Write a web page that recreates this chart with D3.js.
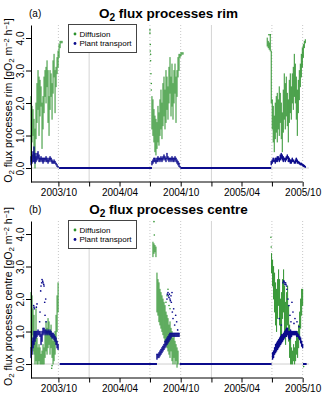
<!DOCTYPE html>
<html>
<head>
<meta charset="utf-8">
<script src="https://cdn.jsdelivr.net/npm/d3@7"></script>
<style>
body { margin: 0; background: #fff; }
text { font-family: "Liberation Sans", Arial, sans-serif; }
</style>
</head>
<body>
<div id="chart"></div>
<script>
// time axis
const xStart = "2003-07-11", xEnd = "2005-10-20";
const tickDates = ["2003-10-01","2004-01-01","2004-04-01","2004-07-01","2004-10-01","2005-01-01","2005-04-01","2005-07-01","2005-10-01"];
const labelDates = ["2003-10-01","2004-04-01","2004-10-01","2005-04-01","2005-10-01"];
const yearLines = ["2004-01-01","2005-01-01"];
const seasonLines = ["2003-10-01","2004-07-01","2004-10-01","2005-07-01","2005-10-01"];
const yTicks = [0, 1, 2, 3, 4];
const stepDays = 3; // spacing of the [low, high] samples below

// ---- rim: diffusion, [low, high] every 3 days
const rimDiffStarts = ["2003-07-11", "2004-07-07", "2005-06-17"];
const rimDiff1 = [[0.2,2.2],[0.8,1.9],[1.0,1.8],[0.3,1.5],[0.0,1.2],[0.9,2.0],[1.4,2.6],[1.8,3.0],[1.0,2.8],[1.6,2.7],[1.9,2.5],[0.6,2.0],[1.2,2.2],[1.7,2.8],[2.2,3.0],[2.0,3.1],[2.5,3.3],[1.4,3.0],[1.0,2.2],[1.8,3.0],[2.2,2.9],[1.5,2.6],[2.3,3.3],[2.8,3.5],[1.7,3.0],[2.5,3.1],[2.9,3.4],[3.1,3.6],[3.4,3.8],[3.7,3.9],[3.85,3.9],[3.85,3.9]];
const rimDiff2 = [[1.2,2.2],[1.0,2.1],[0.8,1.8],[0.5,1.6],[0.4,1.5],[0.6,1.4],[0.8,1.9],[0.7,1.7],[1.0,2.1],[1.2,2.4],[0.9,2.0],[1.3,2.6],[1.6,2.8],[1.2,2.4],[1.4,3.0],[1.8,2.8],[1.5,2.5],[2.0,3.1],[2.3,3.4],[1.6,2.8],[1.9,3.2],[1.5,2.6],[2.0,3.0],[2.3,3.2],[1.4,2.8],[2.2,3.0],[2.8,3.4],[3.0,3.5],[3.4,3.5],[3.45,3.55],[3.5,3.55],[3.5,3.55]];
const rimDiff3 = [[3.75,4.0],[3.7,3.9],[3.65,3.85],[3.6,4.1],[2.0,3.6],[1.2,2.1],[0.8,1.9],[0.5,1.6],[0.9,2.0],[1.1,2.2],[0.8,2.3],[1.2,2.1],[1.0,2.5],[1.4,2.3],[0.9,2.0],[0.5,1.7],[1.1,2.4],[1.5,2.9],[1.2,2.6],[1.6,2.8],[1.3,2.3],[0.8,2.1],[1.4,2.7],[1.7,2.9],[1.5,2.5],[2.0,2.9],[1.8,3.1],[2.2,3.5],[2.0,3.2],[1.5,2.8],[1.0,2.4],[1.7,2.7],[2.1,3.0],[2.5,3.2],[2.8,3.5],[3.1,3.7],[3.4,3.8],[3.7,3.9],[3.85,3.95]];
const rimDiffScatter = [["2004-07-01",4.25],["2004-07-01",4.15],["2004-07-02",3.8],["2004-07-02",3.6],["2004-07-03",3.5],["2004-07-03",3.3],["2004-07-04",2.9],["2004-07-05",2.6],["2004-07-05",2.4],["2005-06-22",4.1],["2005-06-26",4.1]];

// ---- rim: plant transport
const rimTransStarts = ["2003-07-11", "2004-07-07", "2005-06-29"];
const rimTrans1 = [[0.1,0.35],[0.15,0.4],[0.2,0.5],[0.2,0.65],[0.15,0.45],[0.2,0.35],[0.25,0.45],[0.3,0.5],[0.2,0.4],[0.2,0.3],[0.25,0.35],[0.2,0.3],[0.15,0.3],[0.2,0.3],[0.25,0.3],[0.2,0.35],[0.2,0.3],[0.15,0.25],[0.2,0.3],[0.25,0.35],[0.2,0.3],[0.15,0.25],[0.15,0.2],[0.15,0.25],[0.15,0.2],[0.1,0.15],[0.05,0.1],[0.02,0.05]];
const rimTrans2 = [[0.1,0.2],[0.15,0.25],[0.2,0.3],[0.2,0.3],[0.15,0.25],[0.2,0.3],[0.2,0.35],[0.25,0.3],[0.2,0.3],[0.25,0.35],[0.2,0.3],[0.25,0.35],[0.3,0.4],[0.25,0.35],[0.2,0.3],[0.3,0.45],[0.25,0.35],[0.2,0.3],[0.25,0.3],[0.2,0.3],[0.25,0.35],[0.2,0.3],[0.2,0.3],[0.25,0.35],[0.2,0.3],[0.15,0.25],[0.1,0.2],[0.05,0.15],[0.02,0.05]];
const rimTrans3 = [[0.1,0.2],[0.15,0.25],[0.2,0.3],[0.2,0.25],[0.15,0.3],[0.2,0.3],[0.2,0.35],[0.25,0.35],[0.2,0.3],[0.25,0.4],[0.3,0.45],[0.25,0.4],[0.2,0.35],[0.25,0.3],[0.2,0.3],[0.25,0.35],[0.3,0.4],[0.2,0.35],[0.2,0.3],[0.15,0.25],[0.15,0.25],[0.2,0.3],[0.2,0.25],[0.15,0.2],[0.15,0.25],[0.2,0.3],[0.15,0.25],[0.15,0.2],[0.12,0.18],[0.1,0.15],[0.1,0.15],[0.08,0.12],[0.05,0.1],[0.04,0.08],[0.02,0.05]];
const rimTransScatter = [];
const rimZero = [["2003-10-03","2004-07-07"],["2004-09-30","2005-06-29"]];

// ---- centre: diffusion
const centreDiffStarts = ["2003-07-11", "2004-07-10", "2005-06-30"];
const centreDiff1 = [[0.5,2.2],[0.9,2.1],[0.4,1.7],[0.3,1.5],[0.0,1.0],[0.1,1.7],[0.0,0.8],[0.0,0.5],[0.1,0.6],[0.0,0.5],[0.0,0.3],[0.0,0.4],[0.0,0.6],[0.0,0.5],[0.2,0.9],[0.4,1.3],[0.3,1.1],[0.5,1.4],[0.6,1.3],[0.3,1.0],[0.5,1.2],[0.2,0.9],[0.0,0.7],[0.1,0.9],[0.3,1.0],[0.6,1.5],[1.0,2.1],[1.6,2.5]];
const centreDiff2 = [[3.3,3.75],[3.4,3.7],[3.45,3.65],[3.3,3.6],[1.6,2.8],[1.5,2.6],[1.3,2.5],[1.2,2.3],[1.1,2.2],[1.0,2.1],[0.9,2.0],[0.8,1.9],[0.7,1.8],[0.6,1.6],[0.5,1.5],[0.4,1.4],[0.3,1.2],[0.2,1.3],[0.4,1.1],[0.1,1.0],[0.0,0.8],[0.2,0.9],[0.0,0.7],[0.1,0.6],[-0.1,0.5],[0.0,0.4]];
const centreDiff3 = [[2.8,3.4],[2.4,3.2],[2.0,3.0],[1.6,2.8],[1.2,2.5],[1.0,2.3],[1.4,2.6],[1.8,2.9],[1.2,2.6],[0.6,2.0],[0.9,2.2],[1.4,2.6],[1.6,2.9],[1.0,2.4],[0.6,1.9],[0.9,2.2],[1.2,2.4],[0.7,1.8],[0.2,1.2],[0.0,0.8],[0.0,0.5],[0.0,0.4],[0.1,0.6],[0.0,0.5],[0.1,0.7],[0.3,0.9],[0.2,1.0],[0.5,1.2],[0.8,1.6],[1.1,2.0],[1.5,2.3],[1.8,2.3]];
const centreDiffScatter = [["2003-09-11",-0.13],["2003-09-12",-0.05],["2004-07-13",4.38],["2004-07-14",3.97],["2004-08-18",1.9],["2004-08-21",2.1],["2004-08-24",2.3],["2004-08-27",1.8],["2004-08-30",1.7],["2005-06-28",3.9],["2005-06-29",3.6],["2005-10-04",-0.08]];

// ---- centre: plant transport
const centreTransStarts = ["2003-07-11", "2004-07-22", "2005-07-03"];
const centreTrans1 = [[0.2,0.5],[0.3,0.7],[0.5,0.8],[0.6,1.0],[0.7,1.0],[0.8,1.0],[0.85,1.0],[0.9,1.05],[0.9,1.0],[0.85,1.0],[0.6,0.9],[0.7,1.0],[0.9,1.1],[0.95,1.1],[0.9,1.05],[0.95,1.05],[0.9,1.0],[0.95,1.05],[0.9,1.0],[0.9,1.05],[0.85,1.0],[0.8,0.95],[0.8,0.95],[0.75,0.9],[0.7,0.85],[0.6,0.8],[0.5,0.7],[0.45,0.6]];
const centreTrans2 = [[0.15,0.3],[0.2,0.3],[0.2,0.35],[0.25,0.4],[0.3,0.45],[0.35,0.5],[0.4,0.55],[0.45,0.6],[0.5,0.7],[0.55,0.75],[0.6,0.8],[0.65,0.85],[0.7,0.9],[0.75,0.95],[0.8,0.95],[0.85,0.95],[0.85,0.95],[0.85,0.95],[0.85,0.95],[0.85,0.95],[0.85,0.95],[0.85,0.95],[0.85,0.95]];
const centreTrans3 = [[0.15,0.35],[0.2,0.4],[0.3,0.5],[0.35,0.6],[0.4,0.65],[0.45,0.7],[0.5,0.75],[0.55,0.8],[0.6,0.85],[0.65,0.9],[0.7,0.9],[0.75,0.95],[0.8,1.0],[0.85,1.05],[0.85,1.1],[0.9,1.1],[0.8,1.0],[0.75,1.0],[0.8,1.05],[0.85,1.0],[0.9,1.0],[0.9,1.0],[0.9,1.0],[0.9,1.0],[0.85,1.0],[0.85,0.95],[0.8,0.9],[0.75,0.85],[0.65,0.8],[0.55,0.7],[0.5,0.6]];
const centreTransScatter = [["2003-07-19",1.8],["2003-07-20",1.75],["2003-07-21",1.7],["2003-07-27",1.75],["2003-07-29",1.85],["2003-08-06",1.3],["2003-08-07",1.6],
  ["2003-08-09",2.25],["2003-08-10",2.4],["2003-08-12",2.5],["2003-08-13",2.6],["2003-08-15",2.55],["2003-08-16",2.5],["2003-08-18",2.45],["2003-08-19",2.4],["2003-08-21",1.9],["2003-08-22",1.5],["2003-08-24",2.0],["2003-08-25",1.3],
  ["2004-08-21",2.0],["2004-08-22",2.15],["2004-08-24",2.2],["2004-08-25",2.1],["2004-08-27",2.05],["2004-08-28",2.15],["2004-08-30",2.0],["2004-08-31",1.95],["2004-09-02",2.1],["2004-09-03",1.9],["2004-09-05",2.2],["2004-09-06",1.6],["2004-09-08",1.4],["2004-09-10",1.7],["2004-09-13",1.2],["2004-09-16",1.5],["2004-09-19",1.3],["2004-09-22",1.05],
  ["2005-08-03",2.5],["2005-08-05",2.55],["2005-08-06",2.55],["2005-08-08",2.5],["2005-08-09",2.45],["2005-08-11",2.5],["2005-08-12",2.45],["2005-08-14",2.4],["2005-08-15",2.3],["2005-08-18",2.0],["2005-08-21",1.8],["2005-08-24",1.5],["2005-08-27",1.3],["2005-08-30",1.9],["2005-09-02",1.6],["2005-09-05",1.25],["2005-09-08",1.4],["2005-09-14",1.3],["2005-09-20",1.15],["2005-07-23",1.4],["2005-07-29",1.2]];
const centreZero = [["2003-10-05","2004-07-22"],["2004-09-28","2005-06-30"],["2005-10-02","2005-10-13"]];

const green = "#2b912b", blue = "#0b0b8c";
const W = 323, H = 399;
const parse = d3.timeParse("%Y-%m-%d");

const panels = [
  { tag: "(a)", name: "rim", top: 25, bottom: 182,
    diff: [rimDiff1, rimDiff2, rimDiff3], diffStarts: rimDiffStarts, diffScatter: rimDiffScatter,
    trans: [rimTrans1, rimTrans2, rimTrans3], transStarts: rimTransStarts, transScatter: rimTransScatter, zero: rimZero },
  { tag: "(b)", name: "centre", top: 221, bottom: 378,
    diff: [centreDiff1, centreDiff2, centreDiff3], diffStarts: centreDiffStarts, diffScatter: centreDiffScatter,
    trans: [centreTrans1, centreTrans2, centreTrans3], transStarts: centreTransStarts, transScatter: centreTransScatter, zero: centreZero }
];

const svg = d3.select("#chart").append("svg")
  .attr("width", W).attr("height", H);

const x = d3.scaleTime()
  .domain([parse(xStart), parse(xEnd)])
  .range([31, 309]);

function samples(starts, runs) {
  let out = [];
  runs.forEach((vals, k) => {
    const t0 = parse(starts[k]);
    vals.forEach((v, i) => out.push({ date: d3.timeDay.offset(t0, i * stepDays), lo: v[0], hi: v[1] }));
  });
  return out;
}

// text with sub/superscripts: parts = [[text, shift]]
function richText(sel, parts) {
  parts.forEach(p => {
    const t = sel.append("tspan").text(p[0]);
    if (p[1] == "sub") t.attr("baseline-shift", "-25%").attr("font-size", "75%");
    if (p[1] == "sup") t.attr("baseline-shift", "45%").attr("font-size", "70%");
  });
}

panels.forEach(p => {
  const y = d3.scaleLinear().domain([-0.43, 4.4]).range([p.bottom, p.top]);
  const g = svg.append("g");

  // grid
  g.selectAll(null).data(yearLines).join("line")
    .attr("x1", d => x(parse(d))).attr("x2", d => x(parse(d)))
    .attr("y1", p.top).attr("y2", p.bottom)
    .attr("stroke", "#d4d4d4").attr("stroke-width", 1);
  g.selectAll(null).data(seasonLines).join("line")
    .attr("x1", d => x(parse(d))).attr("x2", d => x(parse(d)))
    .attr("y1", p.top).attr("y2", p.bottom)
    .attr("stroke", "#c8c8c8").attr("stroke-width", 1).attr("stroke-dasharray", "1,2");
  g.append("line")
    .attr("x1", x.range()[0]).attr("x2", x.range()[1])
    .attr("y1", y(0)).attr("y2", y(0))
    .attr("stroke", "#cfcfcf").attr("stroke-width", 1);

  // diffusion
  g.selectAll(null).data(samples(p.diffStarts, p.diff)).join("line")
    .attr("x1", d => x(d.date)).attr("x2", d => x(d.date))
    .attr("y1", d => y(d.lo)).attr("y2", d => y(d.hi))
    .attr("stroke", green).attr("stroke-width", 1).attr("stroke-linecap", "round");
  g.selectAll(null).data(p.diffScatter).join("circle")
    .attr("cx", d => x(parse(d[0]))).attr("cy", d => y(d[1])).attr("r", 0.8)
    .attr("fill", green);

  // plant transport
  g.selectAll(null).data(p.zero).join("line")
    .attr("x1", d => x(parse(d[0]))).attr("x2", d => x(parse(d[1])))
    .attr("y1", y(0)).attr("y2", y(0))
    .attr("stroke", blue).attr("stroke-width", 2);
  g.selectAll(null).data(samples(p.transStarts, p.trans)).join("line")
    .attr("x1", d => x(d.date)).attr("x2", d => x(d.date))
    .attr("y1", d => y(d.lo)).attr("y2", d => y(d.hi))
    .attr("stroke", blue).attr("stroke-width", 1.4).attr("stroke-linecap", "round");
  g.selectAll(null).data(p.transScatter).join("circle")
    .attr("cx", d => x(parse(d[0]))).attr("cy", d => y(d[1])).attr("r", 0.85)
    .attr("fill", blue);

  // y axis
  const ya = g.append("g").attr("transform", "translate(31,0)")
    .call(d3.axisLeft(y).tickValues(yTicks).tickSize(5).tickSizeOuter(0));
  ya.select(".domain").attr("stroke", "#000");
  ya.selectAll("text").attr("transform", "rotate(-90)")
    .attr("x", 0).attr("y", -7.5).attr("dy", 0)
    .attr("text-anchor", "middle").attr("font-size", 10).attr("font-family", null);

  // x axis
  const xa = g.append("g").attr("transform", "translate(0," + p.bottom + ")")
    .call(d3.axisBottom(x).tickValues(tickDates.map(parse)).tickSize(4.5)
      .tickFormat(d => labelDates.includes(d3.timeFormat("%Y-%m-%d")(d)) ? d3.timeFormat("%Y/%m")(d) : ""));
  xa.select(".domain").remove();
  xa.append("line")
    .attr("x1", 31).attr("x2", x(parse(tickDates[tickDates.length - 1])))
    .attr("stroke", "#000");
  xa.selectAll("text").attr("font-size", 10).attr("font-family", null).attr("fill", "#000").attr("y", 7);

  // titles
  const title = svg.append("text")
    .attr("x", 168.5).attr("y", p.top - 7.5)
    .attr("text-anchor", "middle").attr("font-size", 13.5).attr("font-weight", "bold");
  richText(title, [["O"], ["2", "sub"], [" flux processes " + p.name]]);

  svg.append("text").attr("x", 29).attr("y", p.top - 8)
    .attr("font-size", 10).text(p.tag);

  const ylab = svg.append("text")
    .attr("transform", "translate(12," + ((p.top + p.bottom) / 2 - 3) + ") rotate(-90)")
    .attr("text-anchor", "middle").attr("font-size", 10.5);
  richText(ylab, [["O"], ["2", "sub"], [" flux processes " + p.name + " [gO"], ["2", "sub"], [" m"], ["\u22122", "sup"], [" h"], ["\u22121", "sup"], ["]"]]);

  // legend
  const lg = svg.append("g").attr("transform", "translate(68.5," + (p.top - 0.5) + ")");
  lg.append("rect").attr("width", 68).attr("height", 28)
    .attr("fill", "#fff").attr("stroke", "#444").attr("stroke-width", 1);
  [["Diffusion", green], ["Plant transport", blue]].forEach((e, i) => {
    lg.append("circle").attr("cx", 6.5).attr("cy", 9.5 + i * 9.5).attr("r", 1.4).attr("fill", e[1]);
    lg.append("text").attr("x", 11).attr("y", 12.3 + i * 9.5).attr("font-size", 8).text(e[0]);
  });
});
</script>
</body>
</html>
